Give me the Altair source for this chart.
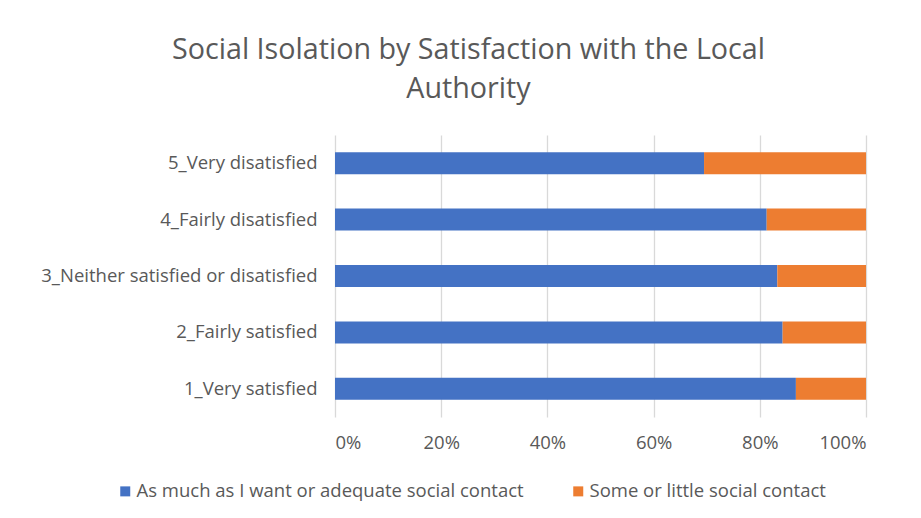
import altair as alt
import pandas as pd

categories = ["1_Very satisfied", "2_Fairly satisfied", "3_Neither satisfied or disatisfied",
              "4_Fairly disatisfied", "5_Very disatisfied"]
adequate = [86.8, 84.3, 83.3, 81.3, 69.5]
little = [13.2, 15.7, 16.7, 18.7, 30.5]
series = ["As much as I want or adequate social contact", "Some or little social contact"]

rows = []
for c, a, l in zip(categories, adequate, little):
    rows.append({"cat": c, "series": series[0], "value": a, "ord": 0})
    rows.append({"cat": c, "series": series[1], "value": l, "ord": 1})
df = pd.DataFrame(rows)

FONT = "Open Sans"
GRAY = "#595959"
FS = 18.5

chart = alt.Chart(df).mark_bar().encode(
    y=alt.Y("cat:N", sort=categories[::-1], title=None,
            scale=alt.Scale(paddingInner=0.61, paddingOuter=0.305),
            axis=alt.Axis(domain=False, ticks=False, labelPadding=18, labelFontSize=FS,
                          labelColor=GRAY, labelFont=FONT, labelLimit=400)),
    x=alt.X("value:Q", stack="normalize", title=None,
            scale=alt.Scale(domain=[0, 1], nice=False),
            axis=alt.Axis(format=".0%", values=[0, 0.2, 0.4, 0.6, 0.8, 1.0], domain=False, ticks=False,
                          grid=True, gridColor="#d9d9d9", gridWidth=1.3, labelPadding=16,
                          labelFontSize=FS, labelColor=GRAY, labelFont=FONT)),
    color=alt.Color("series:N", sort=series,
                    scale=alt.Scale(domain=series, range=["#4472C4", "#ED7D31"]),
                    legend=alt.Legend(title=None, orient="none", direction="horizontal",
                                      legendX=-219, legendY=347, symbolType="square",
                                      symbolSize=100, symbolStrokeWidth=0, labelFontSize=FS,
                                      labelColor=GRAY, labelFont=FONT, columnPadding=45,
                                      labelOffset=2, labelLimit=600)),
    order=alt.Order("ord:Q", sort="ascending"),
).properties(
    width=531, height=282,
    title=alt.TitleParams(["Social Isolation by Satisfaction with the Local", "Authority"],
                          anchor="middle", dx=-132, offset=31, fontSize=28.7, font=FONT,
                          fontWeight="normal", color=GRAY, lineHeight=39),
    autosize="none",
    padding={"left": 327, "top": 127, "right": 40, "bottom": 95},
).configure_view(stroke=None)

chart.save("out.html", embed_options={"renderer": "svg", "actions": False})
